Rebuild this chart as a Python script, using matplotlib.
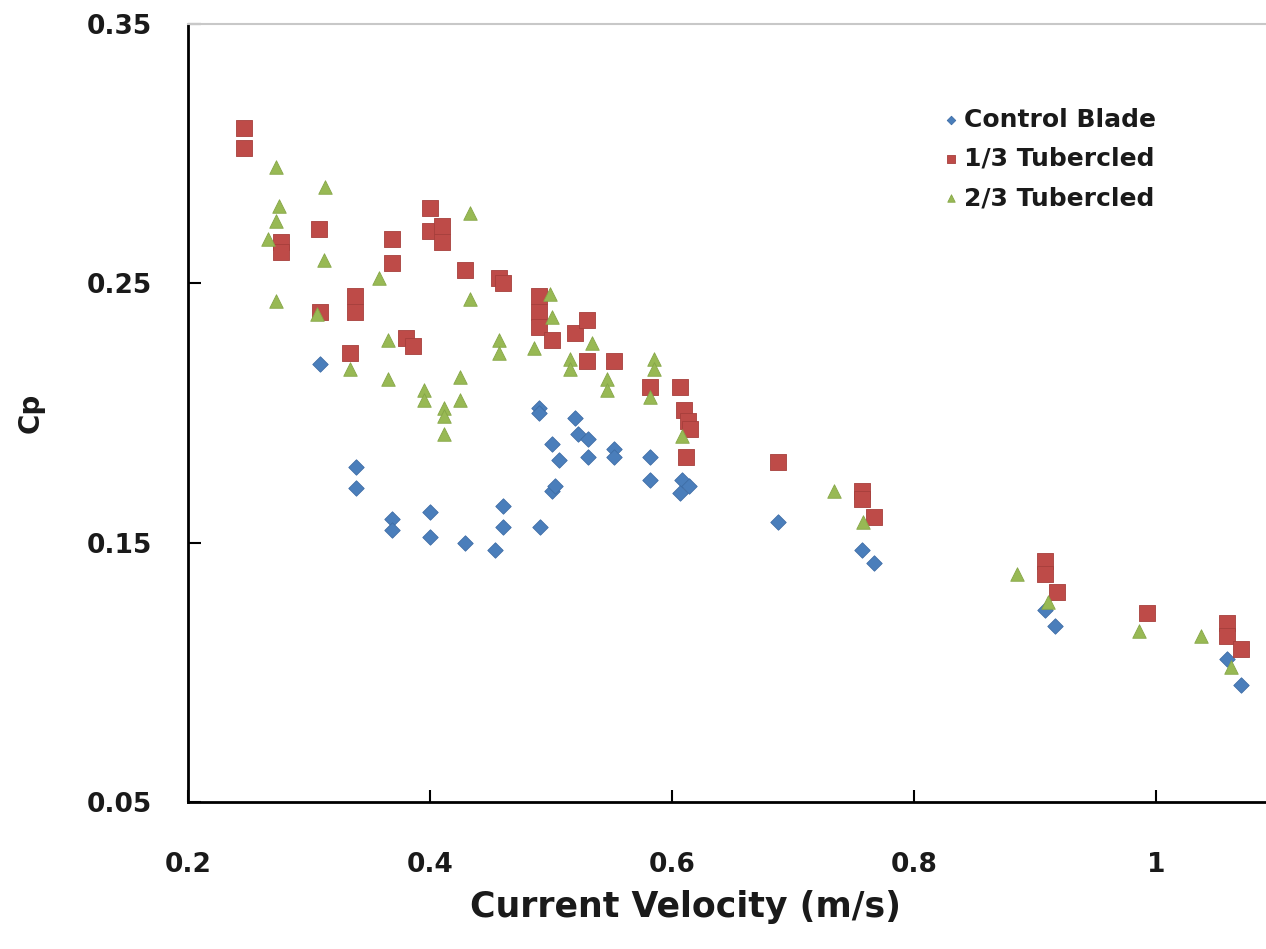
import matplotlib
matplotlib.use("Agg")
import matplotlib.pyplot as plt

# Control Blade (diamonds)
ctrl_x = [0.309, 0.339, 0.339, 0.369, 0.369, 0.400, 0.400, 0.429, 0.454, 0.460,
          0.460, 0.491, 0.490, 0.490, 0.501, 0.507, 0.501, 0.503, 0.520, 0.522,
          0.531, 0.531, 0.552, 0.552, 0.582, 0.582, 0.608, 0.614, 0.607, 0.688,
          0.757, 0.767, 0.908, 0.917, 1.059, 1.070]
ctrl_cp = [0.219, 0.179, 0.171, 0.159, 0.155, 0.162, 0.152, 0.150, 0.147, 0.164,
           0.156, 0.156, 0.202, 0.200, 0.188, 0.182, 0.170, 0.172, 0.198, 0.192,
           0.190, 0.183, 0.186, 0.183, 0.183, 0.174, 0.174, 0.172, 0.169, 0.158,
           0.147, 0.142, 0.124, 0.118, 0.105, 0.095]

# 1/3 Tubercled (squares)
t13_x = [0.246, 0.246, 0.277, 0.277, 0.308, 0.309, 0.338, 0.338, 0.334, 0.369,
         0.369, 0.380, 0.386, 0.400, 0.400, 0.410, 0.410, 0.429, 0.457, 0.460,
         0.490, 0.490, 0.490, 0.501, 0.520, 0.530, 0.530, 0.552, 0.582, 0.607,
         0.610, 0.613, 0.615, 0.612, 0.688, 0.757, 0.757, 0.767, 0.908, 0.908,
         0.918, 0.993, 1.059, 1.059, 1.070]
t13_cp = [0.310, 0.302, 0.266, 0.262, 0.271, 0.239, 0.245, 0.239, 0.223, 0.267,
          0.258, 0.229, 0.226, 0.279, 0.270, 0.272, 0.266, 0.255, 0.252, 0.250,
          0.245, 0.239, 0.233, 0.228, 0.231, 0.236, 0.220, 0.220, 0.210, 0.210,
          0.201, 0.197, 0.194, 0.183, 0.181, 0.170, 0.167, 0.160, 0.143, 0.138,
          0.131, 0.123, 0.119, 0.114, 0.109]

# 2/3 Tubercled (triangles)
t23_x = [0.273, 0.313, 0.275, 0.273, 0.266, 0.312, 0.273, 0.307, 0.358, 0.433,
         0.433, 0.365, 0.334, 0.365, 0.425, 0.425, 0.395, 0.395, 0.412, 0.412,
         0.412, 0.457, 0.457, 0.486, 0.499, 0.501, 0.516, 0.516, 0.534, 0.546,
         0.546, 0.585, 0.585, 0.582, 0.608, 0.734, 0.758, 0.885, 0.911, 0.986,
         1.037, 1.062]
t23_cp = [0.295, 0.287, 0.280, 0.274, 0.267, 0.259, 0.243, 0.238, 0.252, 0.277,
          0.244, 0.228, 0.217, 0.213, 0.214, 0.205, 0.209, 0.205, 0.202, 0.199,
          0.192, 0.228, 0.223, 0.225, 0.246, 0.237, 0.221, 0.217, 0.227, 0.213,
          0.209, 0.221, 0.217, 0.206, 0.191, 0.170, 0.158, 0.138, 0.127, 0.116,
          0.114, 0.102]

x_ticks = [0.2, 0.4, 0.6, 0.8, 1.0]
x_tick_labels = ["0.2", "0.4", "0.6", "0.8", "1"]
y_ticks = [0.05, 0.15, 0.25, 0.35]
y_tick_labels = ["0.05", "0.15", "0.25", "0.35"]

plt.rcParams['font.family'] = ['DejaVu Sans']
plt.rcParams['font.weight'] = 'bold'

fig = plt.figure(figsize=(12.66, 9.49), dpi=100)
ax = fig.add_axes([188 / 1266, 147 / 949, 1 - 188 / 1266, 778 / 949])

ax.scatter(ctrl_x, ctrl_cp, marker='D', s=62, color='#4A7EBB', edgecolor='#3E6DA6',
           linewidth=0.6, label='Control Blade', zorder=3)
ax.scatter(t13_x, t13_cp, marker='s', s=120, color='#BE4B48', edgecolor='#A63F3C',
           linewidth=0.6, label='1/3 Tubercled', zorder=4)
ax.scatter(t23_x, t23_cp, marker='^', s=95, color='#98B954', edgecolor='#86A647',
           linewidth=0.6, label='2/3 Tubercled', zorder=5)

ax.set_xlim(0.2, 1.091)
ax.set_ylim(0.05, 0.35)
ax.set_xticks(x_ticks)
ax.set_xticklabels(x_tick_labels)
ax.set_yticks(y_ticks)
ax.set_yticklabels(y_tick_labels)
ax.tick_params(axis='both', direction='in', length=9, width=1.5, labelsize=19,
               labelcolor='#1a1a1a')
ax.tick_params(axis='x', pad=36)
ax.tick_params(axis='y', pad=26)

ax.spines['right'].set_visible(False)
ax.spines['top'].set_color('#c8c8c8')
ax.spines['top'].set_linewidth(1.5)
ax.spines['left'].set_linewidth(2)
ax.spines['bottom'].set_linewidth(2)

ax.set_xlabel("Current Velocity (m/s)", fontsize=25, fontweight='bold', color='#1a1a1a')
ax.xaxis.set_label_coords((685 - 188) / 1078, -0.113)
ax.set_ylabel("Cp", fontsize=20, fontweight='bold', color='#1a1a1a')
ax.yaxis.set_label_coords(-0.133, 0.5)

leg = ax.legend(loc='upper left', bbox_to_anchor=(943 / 1266, 1 - 108 / 949),
                bbox_transform=fig.transFigure, frameon=False,
                fontsize=18, markerscale=0.55, handletextpad=0.25, labelspacing=0.6,
                handlelength=0.6, borderaxespad=0, borderpad=0)
for t in leg.get_texts():
    t.set_color('#1a1a1a')

fig.savefig("out.png", dpi=100, facecolor='white')
